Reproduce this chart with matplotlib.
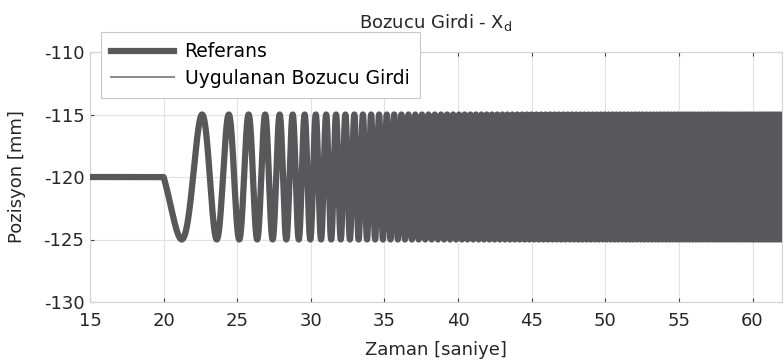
import numpy as np
import matplotlib
matplotlib.use("Agg")
import matplotlib.pyplot as plt

# chirp disturbance on the X axis, values in mm / s
t_first, t_last = 15.0, 62.0
chirp_start = 20.0
offset_mm = -120.0
amp_mm = 5.0
f0_hz = 0.13
sweep_hz_per_s = 0.12

x_ticks = [15, 20, 25, 30, 35, 40, 45, 50, 55, 60]
y_ticks = [-130, -125, -120, -115, -110]

def chirp(t):
    tau = np.clip(t - chirp_start, 0, None)
    phase = 2 * np.pi * (f0_hz * tau + 0.5 * sweep_hz_per_s * tau ** 2)
    return offset_mm - amp_mm * np.sin(phase)

t_ref = np.arange(t_first, t_last, 0.002)
t_app = np.arange(t_first, t_last, 0.01)
ref = chirp(t_ref)
applied = chirp(t_app)

plt.rcParams['font.family'] = ['DejaVu Sans']
plt.rcParams['axes.unicode_minus'] = False

txt = '#262626'
fig = plt.figure(figsize=(7.84, 3.63), dpi=100)
ax = fig.add_axes([90 / 784, 61 / 363, 692 / 784, 250 / 363])

ax.plot(t_ref, ref, color='#58585a', linewidth=4.5, label='Referans', zorder=3)
ax.plot(t_app, applied, color='#8a8a8a', linewidth=1.4, label='Uygulanan Bozucu Girdi', zorder=2)

ax.set_xlim(t_first, t_last)
ax.set_ylim(-130, -110)
ax.set_xticks(x_ticks)
ax.set_yticks(y_ticks)
ax.grid(True, color='#e2e2e2', linewidth=0.8)
ax.set_axisbelow(True)
for s in ax.spines.values():
    s.set_color('#d4d4d4')
    s.set_linewidth(0.8)
ax.tick_params(direction='in', length=3, width=0.8, color='#444444',
               top=True, right=True, labelsize=13, labelcolor=txt)
ax.tick_params(axis='y', pad=4)
ax.tick_params(axis='x', pad=7)

ax.set_xlabel('Zaman [saniye]', fontsize=13, color=txt, labelpad=8)
ax.set_ylabel('Pozisyon [mm]', fontsize=13, color=txt, labelpad=13)
ax.set_title(r'Bozucu Girdi - X$_\mathrm{d}$', fontsize=13, color=txt, pad=17)

leg = ax.legend(loc='upper left', bbox_to_anchor=(101 / 784, 1 - 32 / 363),
                bbox_transform=fig.transFigure, borderaxespad=0, fontsize=13.5,
                handlelength=3.36, handletextpad=0.55, borderpad=0.55,
                labelspacing=0.4, frameon=True, fancybox=False, framealpha=1)
leg.get_frame().set_edgecolor('#c8c8c8')
leg.get_frame().set_linewidth(0.8)
leg.set_zorder(5)

fig.savefig('out.png', dpi=100)
